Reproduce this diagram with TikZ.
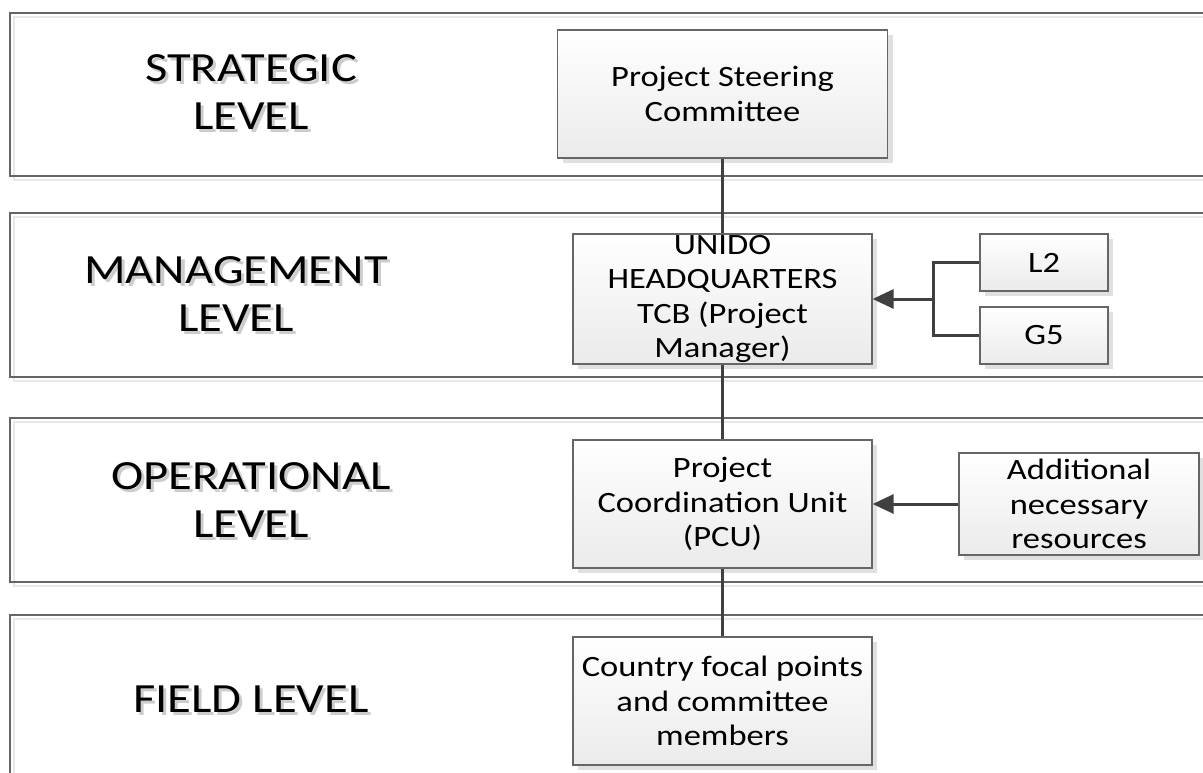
\documentclass[tikz,border=0pt]{standalone}
\usepackage{fontspec}
\setmainfont{Carlito}[FakeStretch=1.17]
\usepackage{tikz}
\usetikzlibrary{arrows.meta,positioning,shadows}

\tikzset{
    band/.style={draw=black!60, line width=1.3pt},
    bandshadow/.style={draw=black!9, line width=1.3pt},
    unit/.style={draw=black!60, line width=1.2pt, top color=white, bottom color=black!8,
        inner sep=0pt, align=center, font=\fontsize{29.5}{34.5}\selectfont,
        drop shadow={shadow xshift=5pt, shadow yshift=-5pt, fill=black!12, opacity=1}},
    link/.style={draw=black!75, line width=3pt},
    feed/.style={link, -{Triangle[length=21pt, width=19pt]}},
    level/.style={align=center, font=\fontsize{41.5}{48}\selectfont}
}
\newcommand{\lvltext}[1]{\rlap{\kern3pt\raisebox{-3pt}{\color{black!20}#1}}#1}

\begin{document}
\begin{tikzpicture}[x=1pt, y=-1pt]
    \useasboundingbox (0,0) rectangle (1203,772);

    % Level bands
    \foreach \top/\bot in {13/176, 213/377, 418/582, 615/788} {
        \draw[bandshadow] (14,\top+4) rectangle (1230,\bot+4);
        \draw[band] (10,\top) rectangle (1230,\bot);
    }

    \node[level] (strat) at (251,94) {\lvltext{STRATEGIC}\\\lvltext{LEVEL}};
    \node[level] (mgmt) at (236,296) {\lvltext{MANAGEMENT}\\\lvltext{LEVEL}};
    \node[level] (oper) at (251,502) {\lvltext{OPERATIONAL}\\\lvltext{LEVEL}};
    \node[level] (field) at (251,701) {\lvltext{FIELD LEVEL}};

    % Units
    \node[unit, minimum width=330, minimum height=128] (steer) at (722.5,94) {Project Steering\\Committee};
    \node[unit, minimum width=299, minimum height=130] (hq) at (722.5,299) {UNIDO\\HEADQUARTERS\\TCB (Project\\Manager)};
    \node[unit, minimum width=128, minimum height=57] (ltwo) at (1044,262.5) {L2};
    \node[unit, minimum width=128, minimum height=57] (gfive) at (1044,335.5) {G5};
    \node[unit, minimum width=299, minimum height=128] (pcu) at (722.5,504) {Project\\Coordination Unit\\(PCU)};
    \node[unit, minimum width=240, minimum height=102] (extra) at (1079,504) {Additional\\necessary\\resources};
    \node[unit, minimum width=299, minimum height=128] (focal) at (722.5,701) {Country focal points\\and committee\\members};

    % Links
    \draw[link] (steer) -- (hq);
    \draw[link] (hq) -- (pcu);
    \draw[link] (pcu) -- (focal);

    \coordinate (fork) at (933,299);
    \draw[link] (ltwo.west) -| (fork) |- (gfive.west);
    \draw[feed] (fork) -- (hq.east);
    \draw[feed] (extra) -- (pcu);
\end{tikzpicture}
\end{document}
